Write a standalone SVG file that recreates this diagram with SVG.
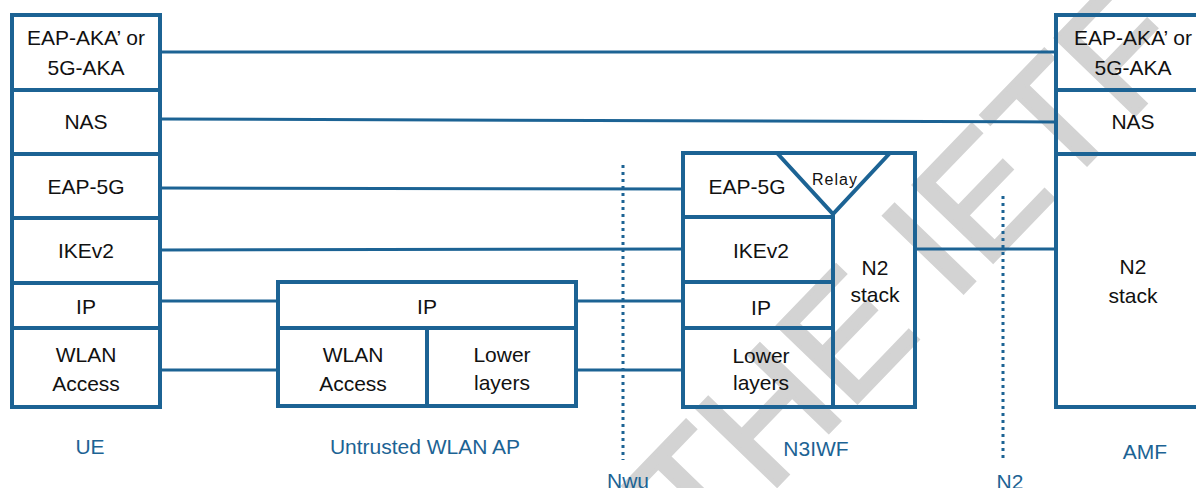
<svg xmlns="http://www.w3.org/2000/svg" width="1196" height="488" viewBox="0 0 1196 488">
<style>
.bx{fill:none;stroke:#1c6394;stroke-width:4;stroke-linejoin:miter}
.dv{stroke:#1c6394;stroke-width:4;fill:none}
.cn{stroke:#1c6394;stroke-width:3;fill:none}
.dt{stroke:#1c6394;stroke-width:3;stroke-dasharray:3 4;fill:none}
.t{font-family:"Liberation Sans",Arial,sans-serif;font-size:21px;text-anchor:middle;fill:#111}
.lb{font-family:"Liberation Sans",Arial,sans-serif;font-size:21px;text-anchor:middle;fill:#1c6394}
.wm{font-family:"Liberation Sans",Arial,sans-serif;font-size:160px;fill:#d3d3d3;stroke:#d3d3d3;stroke-width:4}
</style>
<rect x="0" y="0" width="1196" height="488" fill="#fff"/>
<text class="wm" transform="translate(700,565) rotate(-46)">THE IETF</text>

<g id="connectors">
<line class="cn" x1="160" y1="52" x2="1056" y2="52"/>
<line class="cn" x1="160" y1="119" x2="1056" y2="122"/>
<line class="cn" x1="160" y1="188" x2="683" y2="189"/>
<line class="cn" x1="160" y1="250" x2="683" y2="249"/>
<line class="cn" x1="160" y1="301" x2="278" y2="301"/>
<line class="cn" x1="576" y1="301" x2="683" y2="301"/>
<line class="cn" x1="160" y1="370" x2="278" y2="370"/>
<line class="cn" x1="576" y1="370" x2="683" y2="370"/>
<line class="cn" x1="915" y1="249" x2="1056" y2="249"/>
<line class="dt" x1="623" y1="165" x2="623" y2="460"/>
<line class="dt" x1="1003" y1="196" x2="1003" y2="458"/>
</g>

<g id="ue">
<rect class="bx" x="12" y="15" width="148" height="392"/>
<line class="dv" x1="12" y1="90" x2="160" y2="90"/>
<line class="dv" x1="12" y1="154" x2="160" y2="154"/>
<line class="dv" x1="12" y1="218" x2="160" y2="218"/>
<line class="dv" x1="12" y1="283" x2="160" y2="283"/>
<line class="dv" x1="12" y1="328" x2="160" y2="328"/>
<text class="t" x="86" y="45">EAP-AKA’ or</text>
<text class="t" x="86" y="75">5G-AKA</text>
<text class="t" x="86" y="129">NAS</text>
<text class="t" x="86" y="194">EAP-5G</text>
<text class="t" x="86" y="258">IKEv2</text>
<text class="t" x="86" y="314">IP</text>
<text class="t" x="86" y="362">WLAN</text>
<text class="t" x="86" y="391">Access</text>
<text class="lb" x="90" y="454">UE</text>
</g>

<g id="wlan-ap">
<rect class="bx" x="278" y="282" width="298" height="124"/>
<line class="dv" x1="278" y1="328" x2="576" y2="328"/>
<line class="dv" x1="427" y1="328" x2="427" y2="406"/>
<text class="t" x="427" y="314">IP</text>
<text class="t" x="353" y="362">WLAN</text>
<text class="t" x="353" y="391">Access</text>
<text class="t" x="502" y="362">Lower</text>
<text class="t" x="502" y="390">layers</text>
<text class="lb" x="425" y="454">Untrusted WLAN AP</text>
</g>

<g id="n3iwf">
<rect class="bx" x="683" y="153" width="232" height="254"/>
<line class="dv" x1="683" y1="217" x2="833" y2="217"/>
<line class="dv" x1="683" y1="282" x2="833" y2="282"/>
<line class="dv" x1="683" y1="328" x2="833" y2="328"/>
<line class="dv" x1="833" y1="214" x2="833" y2="407"/>
<polyline class="dv" points="777,153 833,214 890,153"/>
<text class="t" x="747" y="194">EAP-5G</text>
<text style="font-family:'Liberation Sans',Arial,sans-serif;font-size:16px;text-anchor:middle;fill:#111;letter-spacing:1px" x="835" y="185">Relay</text>
<text class="t" x="761" y="258">IKEv2</text>
<text class="t" x="761" y="315">IP</text>
<text class="t" x="761" y="363">Lower</text>
<text class="t" x="761" y="390">layers</text>
<text class="t" x="875" y="275">N2</text>
<text class="t" x="875" y="302">stack</text>
<text class="lb" x="816" y="456">N3IWF</text>
</g>

<g id="amf">
<rect class="bx" x="1056" y="15" width="160" height="392"/>
<line class="dv" x1="1056" y1="90" x2="1216" y2="90"/>
<line class="dv" x1="1056" y1="154" x2="1216" y2="154"/>
<text class="t" x="1133" y="45">EAP-AKA’ or</text>
<text class="t" x="1133" y="75">5G-AKA</text>
<text class="t" x="1133" y="129">NAS</text>
<text class="t" x="1133" y="274">N2</text>
<text class="t" x="1133" y="303">stack</text>
<text class="lb" x="1145" y="459">AMF</text>
</g>

<g id="interfaces">
<text class="lb" x="628" y="488">Nwu</text>
<text class="lb" x="1010" y="489">N2</text>
</g>
</svg>
